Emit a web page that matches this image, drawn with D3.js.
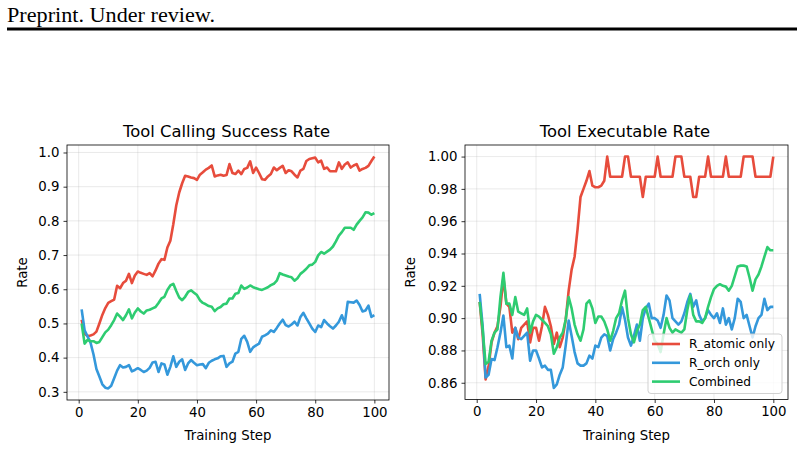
<!DOCTYPE html>
<html><head><meta charset="utf-8">
<script src="https://cdn.jsdelivr.net/npm/d3@7"></script>
<style>body{margin:0;background:#fff}svg{display:block}</style>
</head><body>
<svg id="c" width="804" height="449"></svg>
<script>
const steps = d3.range(1, 101);
const seriesNames = ["R_atomic only", "R_orch only", "Combined"];
const seriesColors = ["#e74c3c", "#3498db", "#2ecc71"];

const callAtomic = [0.511,0.47,0.463,0.465,0.468,0.476,0.50,0.525,0.545,0.56,0.565,0.57,0.61,0.603,0.618,0.625,0.645,0.618,0.64,0.652,0.648,0.645,0.642,0.647,0.638,0.655,0.675,0.688,0.686,0.722,0.742,0.79,0.845,0.883,0.91,0.932,0.93,0.927,0.925,0.92,0.935,0.942,0.95,0.955,0.962,0.93,0.933,0.935,0.932,0.934,0.966,0.94,0.937,0.947,0.937,0.952,0.955,0.974,0.94,0.956,0.94,0.922,0.92,0.93,0.937,0.956,0.948,0.955,0.961,0.94,0.948,0.945,0.935,0.927,0.947,0.952,0.975,0.981,0.983,0.985,0.971,0.976,0.952,0.956,0.945,0.945,0.945,0.971,0.952,0.965,0.971,0.956,0.962,0.966,0.947,0.952,0.955,0.961,0.975,0.988];
const callOrch = [0.541,0.48,0.462,0.444,0.41,0.367,0.345,0.322,0.312,0.31,0.318,0.34,0.362,0.378,0.371,0.373,0.378,0.36,0.364,0.369,0.364,0.358,0.362,0.37,0.386,0.388,0.358,0.383,0.38,0.35,0.373,0.404,0.373,0.388,0.395,0.364,0.383,0.393,0.385,0.378,0.38,0.381,0.369,0.385,0.391,0.395,0.398,0.404,0.405,0.373,0.383,0.388,0.412,0.417,0.455,0.464,0.446,0.417,0.43,0.436,0.441,0.461,0.465,0.47,0.48,0.475,0.487,0.5,0.511,0.495,0.491,0.497,0.505,0.494,0.519,0.531,0.515,0.5,0.485,0.475,0.494,0.489,0.51,0.5,0.492,0.485,0.494,0.505,0.524,0.5,0.563,0.562,0.561,0.567,0.554,0.535,0.538,0.552,0.519,0.524];
const callCombined = [0.50,0.441,0.452,0.448,0.448,0.443,0.446,0.46,0.474,0.482,0.495,0.51,0.529,0.52,0.51,0.524,0.541,0.515,0.532,0.544,0.535,0.529,0.538,0.54,0.544,0.548,0.56,0.573,0.578,0.598,0.611,0.616,0.595,0.576,0.568,0.578,0.592,0.597,0.59,0.583,0.568,0.56,0.556,0.551,0.549,0.536,0.544,0.548,0.556,0.558,0.573,0.573,0.587,0.589,0.611,0.601,0.605,0.611,0.606,0.603,0.6,0.598,0.602,0.606,0.612,0.616,0.625,0.647,0.643,0.64,0.637,0.635,0.625,0.632,0.645,0.652,0.66,0.67,0.672,0.68,0.699,0.709,0.704,0.71,0.716,0.725,0.74,0.757,0.767,0.78,0.78,0.78,0.774,0.789,0.80,0.81,0.825,0.824,0.818,0.823];

const execAtomic = [0.910,0.89,0.862,0.87,0.885,0.891,0.895,0.907,0.925,0.909,0.907,0.891,0.894,0.887,0.894,0.896,0.898,0.885,0.894,0.894,0.886,0.895,0.907,0.902,0.895,0.884,0.891,0.882,0.888,0.899,0.917,0.93,0.938,0.955,0.975,0.98,0.985,0.991,0.982,0.981,0.981,0.982,0.985,1.0,0.9875,0.9875,0.9875,0.9875,0.9875,1.0,1.0,0.9875,0.9875,0.9875,0.9875,0.975,0.9875,0.9875,0.9875,0.9875,1.0,0.9875,0.9875,0.9875,0.9875,0.9875,1.0,1.0,1.0,0.9875,0.9875,0.9875,0.975,0.975,0.9875,0.9875,0.9875,1.0,0.9875,0.9875,0.9875,0.9875,0.9875,1.0,0.9875,0.9875,0.9875,0.9875,0.9875,1.0,1.0,1.0,1.0,0.9875,0.9875,0.9875,0.9875,0.9875,0.9875,1.0];
const execOrch = [0.915,0.895,0.8633,0.865,0.8747,0.874,0.882,0.891,0.9016,0.882,0.883,0.875,0.894,0.888,0.887,0.889,0.891,0.8737,0.88,0.88,0.875,0.8695,0.8706,0.868,0.868,0.8568,0.859,0.865,0.8695,0.883,0.8985,0.889,0.879,0.872,0.8706,0.8706,0.872,0.8768,0.875,0.883,0.882,0.888,0.89,0.889,0.880,0.887,0.891,0.896,0.9067,0.899,0.888,0.883,0.889,0.896,0.886,0.9,0.906,0.909,0.9,0.9,0.8985,0.894,0.902,0.914,0.911,0.9,0.898,0.896,0.898,0.903,0.91,0.915,0.907,0.911,0.902,0.898,0.9,0.905,0.902,0.9,0.903,0.897,0.906,0.896,0.9,0.893,0.9,0.912,0.91,0.9,0.902,0.895,0.888,0.895,0.9,0.902,0.912,0.905,0.907,0.907];
const execCombined = [0.910,0.893,0.8716,0.873,0.886,0.891,0.893,0.913,0.928,0.909,0.909,0.902,0.913,0.904,0.903,0.902,0.906,0.891,0.898,0.902,0.901,0.899,0.897,0.895,0.89,0.878,0.882,0.888,0.891,0.899,0.913,0.906,0.896,0.89,0.886,0.893,0.909,0.911,0.906,0.897,0.901,0.901,0.898,0.893,0.886,0.892,0.9,0.903,0.911,0.917,0.9,0.89,0.885,0.892,0.896,0.905,0.907,0.9,0.893,0.886,0.884,0.879,0.89,0.9,0.894,0.891,0.893,0.892,0.891,0.893,0.905,0.914,0.902,0.898,0.898,0.897,0.9,0.907,0.913,0.918,0.92,0.921,0.92,0.9195,0.917,0.92,0.926,0.932,0.9325,0.9325,0.932,0.925,0.917,0.924,0.927,0.932,0.938,0.944,0.942,0.942];

const xTicks = [0,20,40,60,80,100];
const yTicksLeft = [0.3,0.4,0.5,0.6,0.7,0.8,0.9,1.0];
const yTicksRight = [0.86,0.88,0.90,0.92,0.94,0.96,0.98,1.00];

const svg = d3.select("#c");
const FONT = "DejaVu Sans, sans-serif";

// header
svg.append("text").attr("x", 7).attr("y", 21.5).attr("font-family", "'Liberation Serif', 'DejaVu Serif', serif")
  .attr("font-size", 22).attr("textLength", 208).attr("lengthAdjust", "spacingAndGlyphs")
  .attr("fill", "#000").text("Preprint. Under review.");
svg.append("rect").attr("x", 7).attr("y", 27.5).attr("width", 790).attr("height", 3).attr("fill", "#000");

function panel(opts) {
  const {left, right, top, bottom, title, series, yTicks, yFmt, legend} = opts;
  const all = series.flat();
  const dmin = d3.min(all), dmax = d3.max(all);
  const pad = (dmax - dmin) * 0.05;
  const x = d3.scaleLinear().domain([1 - 99*0.05, 100 + 99*0.05]).range([left, right]);
  const y = d3.scaleLinear().domain([dmin - pad, dmax + pad]).range([bottom, top]);
  const g = svg.append("g");
  // grid
  g.append("g").selectAll("line").data(xTicks).join("line")
    .attr("x1", d => x(d)).attr("x2", d => x(d)).attr("y1", top).attr("y2", bottom)
    .attr("stroke", "#b0b0b0").attr("stroke-opacity", 0.3).attr("stroke-width", 0.9);
  g.append("g").selectAll("line").data(yTicks).join("line")
    .attr("x1", left).attr("x2", right).attr("y1", d => y(d)).attr("y2", d => y(d))
    .attr("stroke", "#b0b0b0").attr("stroke-opacity", 0.3).attr("stroke-width", 0.9);
  // lines
  const line = d3.line().x((d, i) => x(steps[i])).y(d => y(d));
  series.forEach((s, k) => {
    g.append("path").attr("d", line(s)).attr("fill", "none")
      .attr("stroke", seriesColors[k]).attr("stroke-width", 2.6).attr("stroke-linejoin", "round");
  });
  // axes
  const xa = g.append("g").attr("transform", `translate(0,${bottom})`)
    .call(d3.axisBottom(x).tickValues(xTicks).tickSize(3.5).tickPadding(4).tickFormat(d3.format("d")));
  const ya = g.append("g").attr("transform", `translate(${left},0)`)
    .call(d3.axisLeft(y).tickValues(yTicks).tickSize(3.5).tickPadding(4).tickFormat(yFmt));
  [xa, ya].forEach(a => {
    a.select(".domain").remove();
    a.selectAll("text").attr("font-family", FONT).attr("font-size", 13.3).attr("fill", "#000");
    a.selectAll("line").attr("stroke", "#000").attr("stroke-width", 0.8);
  });
  g.append("rect").attr("x", left).attr("y", top).attr("width", right - left).attr("height", bottom - top)
    .attr("fill", "none").attr("stroke", "#000").attr("stroke-width", 0.8);
  g.append("text").attr("x", (left + right) / 2 - 1.5).attr("y", top - 8.5).attr("text-anchor", "middle")
    .attr("font-family", FONT).attr("font-size", 16.4).attr("fill", "#000").text(title);
  g.append("text").attr("x", (left + right) / 2).attr("y", 440).attr("text-anchor", "middle")
    .attr("font-family", FONT).attr("font-size", 13.3).attr("fill", "#000").text("Training Step");
  g.append("text").attr("transform", `translate(${opts.ylabX},${(top + bottom) / 2}) rotate(-90)`)
    .attr("text-anchor", "middle").attr("font-family", FONT).attr("font-size", 13.3).attr("fill", "#000").text("Rate");
  if (legend) {
    const lx = right - 140, ly = 334, lw = 134, lh = 59.5;
    g.append("rect").attr("x", lx).attr("y", ly).attr("width", lw).attr("height", lh).attr("rx", 3)
      .attr("fill", "#fff").attr("fill-opacity", 0.8).attr("stroke", "#cccccc").attr("stroke-width", 0.9);
    seriesNames.forEach((n, k) => {
      const yy = ly + 10 + k * 18.8;
      g.append("line").attr("x1", lx + 4).attr("x2", lx + 32).attr("y1", yy).attr("y2", yy)
        .attr("stroke", seriesColors[k]).attr("stroke-width", 2.6);
      g.append("text").attr("x", lx + 41).attr("y", yy + 4.4).attr("font-family", FONT)
        .attr("font-size", 12.2).attr("fill", "#000").text(n);
    });
  }
}

panel({left: 67, right: 389, top: 145, bottom: 400, title: "Tool Calling Success Rate",
  series: [callAtomic, callOrch, callCombined], yTicks: yTicksLeft, yFmt: d3.format(".1f"), ylabX: 27});
panel({left: 465, right: 788, top: 145, bottom: 399.5, title: "Tool Executable Rate",
  series: [execAtomic, execOrch, execCombined], yTicks: yTicksRight, yFmt: d3.format(".2f"), ylabX: 415, legend: true});
</script>
</body></html>
